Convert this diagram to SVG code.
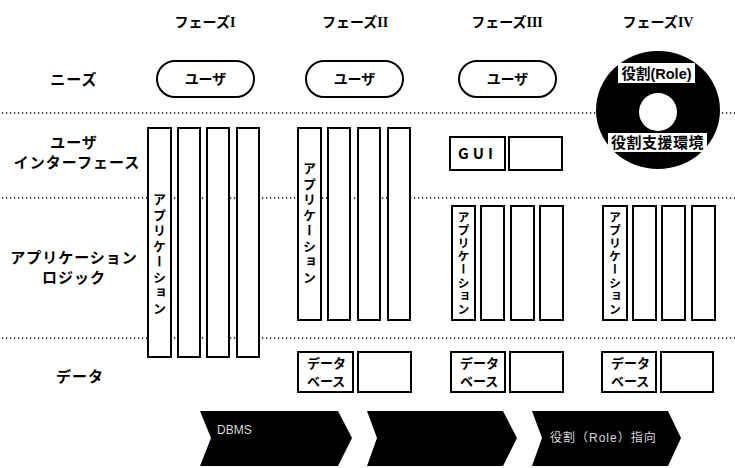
<svg xmlns="http://www.w3.org/2000/svg" width="735" height="468" viewBox="0 0 735 468">
<style>
text{font-family:"Noto Sans CJK JP","Liberation Sans",sans-serif;font-weight:bold;fill:#000}
.hdr{font-size:14px;text-anchor:middle}
.rn{font-family:"Liberation Serif",serif;font-weight:bold}
.lbl{font-size:15px;text-anchor:middle;letter-spacing:1px}
.box{fill:#fff;stroke:#000;stroke-width:2}
.dot{stroke:#000;stroke-width:1.3;stroke-dasharray:1.2 2.8;fill:none}
.vt{font-size:13px;writing-mode:vertical-rl;letter-spacing:2.5px}
.vs{font-size:12px;writing-mode:vertical-rl;letter-spacing:1.2px}
.db{font-size:13px}
.arr{fill:#000}
.at{font-family:"Liberation Sans","Noto Sans CJK JP",sans-serif;font-weight:normal;font-size:12px;fill:#d8d8d8}
</style>
<rect width="735" height="468" fill="#fff"/>

<g id="separators">
<line class="dot" x1="2" y1="113" x2="735" y2="113"/>
<line class="dot" x1="2" y1="198" x2="735" y2="198"/>
<line class="dot" x1="2" y1="338" x2="735" y2="338"/>
</g>

<g id="headers">
<text class="hdr" x="205" y="27">フェーズ<tspan class="rn">I</tspan></text>
<text class="hdr" x="355" y="27">フェーズ<tspan class="rn">II</tspan></text>
<text class="hdr" x="507" y="27">フェーズ<tspan class="rn">III</tspan></text>
<text class="hdr" x="658" y="27">フェーズ<tspan class="rn">IV</tspan></text>
</g>

<g id="row-labels">
<text class="lbl" x="74" y="85">ニーズ</text>
<text class="lbl" x="74" y="148">ユーザ</text>
<text class="lbl" x="77" y="168">インターフェース</text>
<text class="lbl" x="74" y="263">アプリケーション</text>
<text class="lbl" x="74" y="283">ロジック</text>
<text class="lbl" x="80" y="382">データ</text>
</g>

<g id="needs">
<g id="user1"><rect class="box" x="157" y="61" width="97" height="36" rx="18"/><text x="205.5" y="84" font-size="14" text-anchor="middle">ユーザ</text></g>
<g id="user2"><rect class="box" x="306" y="61" width="97" height="36" rx="18"/><text x="354.5" y="84" font-size="14" text-anchor="middle">ユーザ</text></g>
<g id="user3"><rect class="box" x="459" y="61" width="97" height="36" rx="18"/><text x="507.5" y="84" font-size="14" text-anchor="middle">ユーザ</text></g>
<g id="role-disc">
<ellipse cx="658" cy="110" rx="62" ry="59" fill="#000"/>
<circle cx="658" cy="112" r="19" fill="#fff"/>
<rect x="618" y="63" width="77" height="20" fill="#fff"/>
<text x="656.5" y="79" font-size="14.5" text-anchor="middle">役割<tspan font-family="Liberation Sans">(Role)</tspan></text>
<rect x="608" y="133" width="99" height="19" fill="#fff"/>
<text x="657.5" y="148" font-size="15" text-anchor="middle" letter-spacing="0.5">役割支援環境</text>
</g>
</g>

<g id="phase1">
<rect class="box" x="148" y="128" width="23" height="229"/>
<rect class="box" x="178" y="128" width="22" height="229"/>
<rect class="box" x="207" y="128" width="22" height="229"/>
<rect class="box" x="237" y="128" width="22" height="229"/>
<text class="vt" x="159.5" y="193">アプリケーション</text>
</g>

<g id="phase2">
<rect class="box" x="298" y="128" width="23" height="192"/>
<rect class="box" x="328" y="128" width="22" height="192"/>
<rect class="box" x="358" y="128" width="22" height="192"/>
<rect class="box" x="388" y="128" width="22" height="192"/>
<text class="vt" x="309.5" y="162">アプリケーション</text>
<rect class="box" x="298" y="352" width="55" height="40"/>
<text class="db" x="307" y="368">データ</text>
<text class="db" x="307" y="386">ベース</text>
<rect class="box" x="358" y="352" width="53" height="40"/>
</g>

<g id="phase3">
<rect class="box" x="450" y="137" width="55" height="33"/>
<text x="477.5" y="159" font-size="15" text-anchor="middle" font-family="Liberation Sans" letter-spacing="4">GUI</text>
<rect class="box" x="509" y="137" width="53" height="33"/>
<rect class="box" x="452" y="206" width="23" height="114"/>
<rect class="box" x="481" y="206" width="23" height="114"/>
<rect class="box" x="511" y="206" width="23" height="114"/>
<rect class="box" x="540" y="206" width="23" height="114"/>
<text class="vs" x="463.5" y="211">アプリケーション</text>
<rect class="box" x="451" y="352" width="54" height="40"/>
<text class="db" x="460" y="368">データ</text>
<text class="db" x="460" y="386">ベース</text>
<rect class="box" x="510" y="352" width="53" height="40"/>
</g>

<g id="phase4">
<rect class="box" x="603" y="206" width="24" height="114"/>
<rect class="box" x="633" y="206" width="23" height="114"/>
<rect class="box" x="662" y="206" width="23" height="114"/>
<rect class="box" x="692" y="206" width="23" height="114"/>
<text class="vs" x="615" y="211">アプリケーション</text>
<rect class="box" x="602" y="352" width="54" height="40"/>
<text class="db" x="611" y="368">データ</text>
<text class="db" x="611" y="386">ベース</text>
<rect class="box" x="661" y="352" width="52" height="40"/>
</g>

<g id="connectors">
<g id="step1"><polygon class="arr" points="200,411 338,411 352,438 338,466 200,466 211,438"/><text class="at" x="217" y="434">DBMS</text></g>
<g id="step2"><polygon class="arr" points="367,411 503,411 517,438 503,466 367,466 377,438"/></g>
<g id="step3"><polygon class="arr" points="532,411 668,411 681,438 668,466 532,466 542,438"/><text class="at" x="550" y="442" letter-spacing="1">役割（Role）指向</text></g>
</g>
</svg>
